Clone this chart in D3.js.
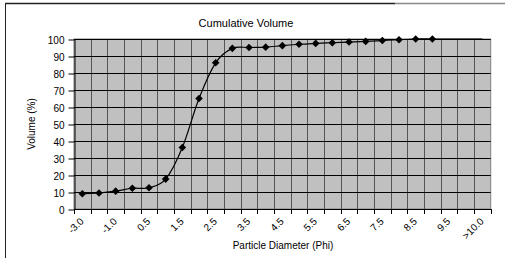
<!DOCTYPE html>
<html>
<head>
<meta charset="utf-8">
<script src="https://cdn.jsdelivr.net/npm/d3@7"></script>
<style>
  body { margin: 0; background: #fff; }
  text { font-family: "Liberation Sans", Arial, sans-serif; fill: #000; }
</style>
</head>
<body>
<div id="chart"></div>
<script>
// particle size classes (phi) and cumulative volume (%)
const phiClasses = ["-3.0", "-2.0", "-1.0", "0.0", "0.5", "1.0", "1.5", "2.0", "2.5", "3.0",
                    "3.5", "4.0", "4.5", "5.0", "5.5", "6.0", "6.5", "7.0", "7.5", "8.0",
                    "8.5", "9.0", "9.5", "10.0", ">10.0"];
const cumVolume = [9.0, 9.4, 10.5, 12.2, 12.5, 17.6, 36.2, 65.0, 86.0, 94.5,
                   95.0, 95.2, 96.1, 96.9, 97.4, 97.8, 98.2, 98.6, 99.1, 99.6,
                   100, 100, 100, 100, 100];
const yTicks = [0, 10, 20, 30, 40, 50, 60, 70, 80, 90, 100];
const markedPoints = 22; // markers only drawn up to 9.0 phi

const W = 505, H = 258;
const plot = {left: 74, right: 490.7, top: 39, bottom: 209};

const svg = d3.select("#chart").append("svg")
    .attr("width", W)
    .attr("height", H);

// outer chart border (only top and left edges are in frame)
svg.append("line").attr("x1", 5).attr("y1", 3.5).attr("x2", 395).attr("y2", 3.5)
    .attr("stroke", "#222").attr("stroke-width", 1.5);
svg.append("line").attr("x1", 395).attr("y1", 3.5).attr("x2", W).attr("y2", 3.5)
    .attr("stroke", "#888").attr("stroke-width", 1.5);
svg.append("line").attr("x1", 5.5).attr("y1", 3).attr("x2", 5.5).attr("y2", H)
    .attr("stroke", "#222").attr("stroke-width", 1);

const x = d3.scaleBand()
    .domain(phiClasses)
    .range([plot.left, plot.right])
    .padding(0);
const y = d3.scaleLinear()
    .domain([0, 100])
    .range([plot.bottom, plot.top]);
const cx = d => x(d) + x.bandwidth() / 2;

// plot area
svg.append("rect")
    .attr("x", plot.left).attr("y", plot.top)
    .attr("width", plot.right - plot.left).attr("height", plot.bottom - plot.top)
    .attr("fill", "#c0c0c0")
    .attr("stroke", "#808080");

// vertical grid at category boundaries
const bounds = phiClasses.map(d => x(d)).concat([x.range()[1]]);
svg.selectAll(".vgrid")
    .data(bounds.slice(1, -1))
    .enter().append("line")
    .attr("class", "vgrid")
    .attr("x1", d => Math.round(d) + 0.5).attr("x2", d => Math.round(d) + 0.5)
    .attr("y1", plot.top).attr("y2", plot.bottom)
    .attr("stroke", "#555");

// horizontal grid
svg.selectAll(".hgrid")
    .data(yTicks)
    .enter().append("line")
    .attr("class", "hgrid")
    .attr("x1", plot.left).attr("x2", plot.right)
    .attr("y1", d => Math.round(y(d)) + 0.5).attr("y2", d => Math.round(y(d)) + 0.5)
    .attr("stroke", "#000");

// y axis
const yAxis = svg.append("g")
    .attr("transform", "translate(" + (plot.left + 0.5) + ",0.5)")
    .call(d3.axisLeft(y).tickValues(yTicks).tickSize(6).tickPadding(4).tickSizeOuter(0));
yAxis.select(".domain").attr("stroke", "#000");
yAxis.selectAll("line").attr("stroke", "#000");
yAxis.selectAll("text").style("font-size", "10px").attr("dy", "0.35em").attr("fill", "#000");

// x axis line and ticks at category boundaries
svg.append("line")
    .attr("x1", plot.left).attr("x2", plot.right)
    .attr("y1", plot.bottom + 0.5).attr("y2", plot.bottom + 0.5)
    .attr("stroke", "#000");
svg.selectAll(".xtick")
    .data(bounds)
    .enter().append("line")
    .attr("class", "xtick")
    .attr("x1", d => Math.round(d) + 0.5).attr("x2", d => Math.round(d) + 0.5)
    .attr("y1", plot.bottom).attr("y2", plot.bottom + 5)
    .attr("stroke", "#000");

// x tick labels, every other class, rotated
svg.selectAll(".xlabel")
    .data(phiClasses.filter((d, i) => i % 2 === 0))
    .enter().append("text")
    .attr("class", "xlabel")
    .attr("transform", d => "translate(" + (cx(d) + 2) + "," + (plot.bottom + 13) + ") rotate(-45)")
    .attr("text-anchor", "end")
    .style("font-size", "10px")
    .text(d => d);

// series line (smoothed)
const line = d3.line()
    .x((d, i) => cx(phiClasses[i]))
    .y(d => y(d))
    .curve(d3.curveCatmullRom.alpha(0));

svg.append("path")
    .datum(cumVolume)
    .attr("d", line)
    .attr("fill", "none")
    .attr("stroke", "#000")
    .attr("stroke-width", 1.2);

// diamond markers
const r = 3.8;
svg.selectAll(".marker")
    .data(cumVolume.slice(0, markedPoints))
    .enter().append("path")
    .attr("class", "marker")
    .attr("transform", (d, i) => "translate(" + cx(phiClasses[i]) + "," + y(d) + ")")
    .attr("d", "M0," + (-r) + "L" + r + ",0L0," + r + "L" + (-r) + ",0Z")
    .attr("fill", "#000");

// titles
svg.append("text")
    .attr("x", 246).attr("y", 27)
    .attr("text-anchor", "middle")
    .style("font-size", "11px")
    .text("Cumulative Volume");

svg.append("text")
    .attr("x", 283).attr("y", 249)
    .attr("text-anchor", "middle")
    .style("font-size", "10px")
    .text("Particle Diameter (Phi)");

svg.append("text")
    .attr("transform", "translate(35," + ((plot.top + plot.bottom) / 2) + ") rotate(-90)")
    .attr("text-anchor", "middle")
    .style("font-size", "10px")
    .text("Volume (%)");
</script>
</body>
</html>
